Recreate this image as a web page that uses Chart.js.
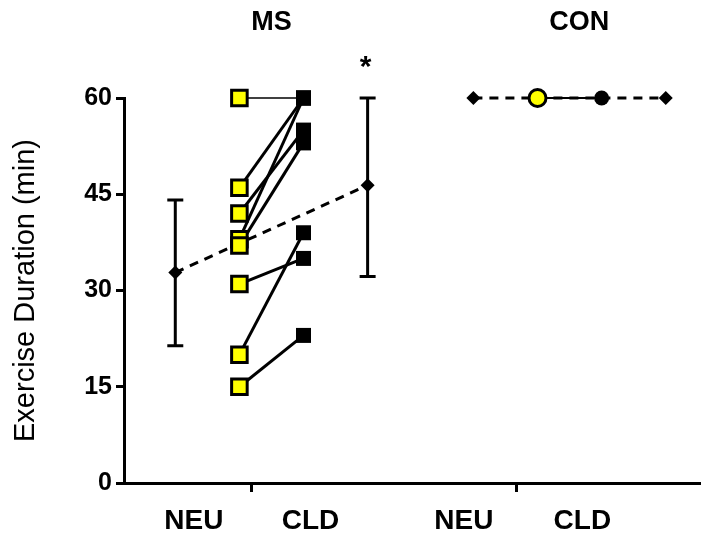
<!DOCTYPE html>
<html>
<head>
<meta charset="utf-8">
<title>Exercise Duration</title>
<script src="https://cdn.jsdelivr.net/npm/chart.js@4.4.0/dist/chart.umd.min.js"></script>
<style>
body { margin: 0; background: #ffffff; }
</style>
</head>
<body>
<canvas id="chart" width="701" height="543"></canvas>
<script>
// ----------------------------------------------------------------------
//	exercise duration, MS vs CON
// ----------------------------------------------------------------------
const ms_neu = [60, 46, 42, 38, 37, 31, 20, 15]
const ms_cld = [60, 60, 55, 60, 53, 35, 39, 23]

const ms_mean = [32.8, 46.4]
const ms_err_low = [21.4, 32.2]
const ms_err_high = [44.1, 60]

const con_mean = [60, 60]
const con_value = [60, 60]

// x: mean NEU, NEU, CLD, mean CLD
const x_ms = [1, 2, 3, 4]
const x_con = [5.65, 6.65, 7.65, 8.65]

const x_labels = ["NEU", "CLD", "NEU", "CLD"]
const x_label_pos = [1.29, 3.11, 5.5, 7.35]
const x_mark_pos = [2.19, 6.32]

const group_titles = ["MS", "CON"]
const group_pos = [2.5, 7.3]

const y_title = "Exercise Duration (min)"
const font_name = '"Liberation Sans", Arial, sans-serif'

// ----------------------------------------------------------------------
function build_datasets()
{
	var datasets = []

	for (var it = 0; it < ms_neu.length; it += 1)
		{
		datasets.push({
			data: [{x: x_ms[1], y: ms_neu[it]}, {x: x_ms[2], y: ms_cld[it]}],
			showLine: true,
			borderColor: '#000000',
			borderWidth: (ms_neu[it] == ms_cld[it]) ? 1.5 : 3,
			pointRadius: 0,
			clip: false,
			order: 5
			})
		}

	datasets.push({
		data: [{x: x_ms[0], y: ms_mean[0]}, {x: x_ms[3], y: ms_mean[1]}],
		showLine: true,
		borderColor: '#000000',
		borderWidth: 3,
		borderDash: [9, 7],
		pointStyle: 'rectRot',
		pointRadius: 7,
		pointBackgroundColor: '#000000',
		pointBorderWidth: 0,
		clip: false,
		order: 4
		})

	datasets.push({
		data: ms_neu.map(v => ({x: x_ms[1], y: v})),
		showLine: false,
		pointStyle: 'rect',
		pointRadius: 11,
		pointBackgroundColor: '#ffff00',
		pointBorderColor: '#000000',
		pointBorderWidth: 3,
		clip: false,
		order: 1
		})

	datasets.push({
		data: ms_cld.map(v => ({x: x_ms[2], y: v})),
		showLine: false,
		pointStyle: 'rect',
		pointRadius: 10.6,
		pointBackgroundColor: '#000000',
		pointBorderWidth: 0,
		clip: false,
		order: 1
		})

	datasets.push({
		data: [{x: x_con[0], y: con_mean[0]}, {x: x_con[3], y: con_mean[1]}],
		showLine: true,
		borderColor: '#000000',
		borderWidth: 3,
		borderDash: [9, 7],
		pointStyle: 'rectRot',
		pointRadius: 7,
		pointBackgroundColor: '#000000',
		pointBorderWidth: 0,
		clip: false,
		order: 4
		})

	datasets.push({
		data: [{x: x_con[1], y: con_value[0]}, {x: x_con[2], y: con_value[1]}],
		showLine: true,
		borderColor: '#000000',
		borderWidth: 2,
		pointStyle: 'circle',
		pointRadius: [8.5, 7.5],
		pointBackgroundColor: ['#ffff00', '#000000'],
		pointBorderColor: '#000000',
		pointBorderWidth: [3, 0],
		clip: false,
		order: 1
		})

	return datasets
}

// ----------------------------------------------------------------------
const error_bars = {
	id: 'error_bars',
	beforeDatasetsDraw(chart)
	{
		const ctx = chart.ctx
		const sx = chart.scales.x
		const sy = chart.scales.y
		const xs = [x_ms[0], x_ms[3]]
		ctx.save()
		ctx.strokeStyle = '#000000'
		ctx.lineWidth = 3
		for (var it = 0; it < xs.length; it += 1)
			{
			const px = sx.getPixelForValue(xs[it])
			const top = sy.getPixelForValue(ms_err_high[it])
			const bot = sy.getPixelForValue(ms_err_low[it])
			ctx.beginPath()
			ctx.moveTo(px, top)
			ctx.lineTo(px, bot)
			ctx.moveTo(px - 8, top)
			ctx.lineTo(px + 8, top)
			ctx.moveTo(px - 8, bot)
			ctx.lineTo(px + 8, bot)
			ctx.stroke()
			}
		ctx.restore()
	}
}

// ----------------------------------------------------------------------
const texts = {
	id: 'texts',
	afterDraw(chart)
	{
		const ctx = chart.ctx
		const sx = chart.scales.x
		const sy = chart.scales.y
		const area = chart.chartArea
		ctx.save()
		ctx.fillStyle = '#000000'

		ctx.font = 'bold 27px ' + font_name
		ctx.textAlign = 'center'
		ctx.textBaseline = 'middle'
		for (var it = 0; it < group_titles.length; it += 1)
			{
			ctx.fillText(group_titles[it], sx.getPixelForValue(group_pos[it]), 23)
			}

		ctx.font = 'bold 30px ' + font_name
		ctx.textBaseline = 'alphabetic'
		ctx.fillText("*", sx.getPixelForValue(x_ms[3]) - 2, sy.getPixelForValue(ms_err_high[1]) - 22)

		ctx.translate(26, (area.top + area.bottom) / 2)
		ctx.rotate(-Math.PI / 2)
		ctx.font = '29px ' + font_name
		ctx.textBaseline = 'middle'
		ctx.fillText(y_title, 0, 0)
		ctx.restore()
	}
}

// ----------------------------------------------------------------------
function prog01 ()
{
	const options = {
		responsive: false,
		animation: false,
		layout: { autoPadding: false, padding: { top: 98, left: 0, right: 0, bottom: 0 } },
		plugins: { legend: { display: false }, tooltip: { enabled: false } },
		scales: {
			x: {
				type: 'linear',
				min: 0.2,
				max: 9.2,
				afterFit: function (scale) {
					scale.height = 60
					scale.paddingLeft = 0
					scale.paddingRight = 0
					},
				afterBuildTicks: function (scale) {
					scale.ticks = x_label_pos.concat(x_mark_pos).sort().map(v => ({value: v}))
					},
				border: { display: true, color: '#000000', width: 3 },
				grid: {
					drawOnChartArea: false,
					drawTicks: true,
					tickLength: 9,
					tickWidth: 3,
					tickColor: function (ctx) {
						if (ctx.tick && x_mark_pos.indexOf(ctx.tick.value) >= 0) return '#000000'
						return 'rgba(0,0,0,0)'
						}
					},
				ticks: {
					autoSkip: false,
					maxRotation: 0,
					padding: 12,
					color: '#000000',
					font: { family: font_name, size: 28, weight: 'bold' },
					callback: function (value) {
						const ii = x_label_pos.indexOf(value)
						return (ii >= 0) ? x_labels[ii] : ''
						}
					}
				},
			y: {
				min: 0,
				max: 60,
				afterFit: function (scale) {
					scale.width = 124
					scale.paddingTop = 0
					scale.paddingBottom = 0
					},
				border: { display: true, color: '#000000', width: 3 },
				grid: {
					drawOnChartArea: false,
					drawTicks: true,
					tickLength: 8,
					tickWidth: 3,
					tickColor: '#000000'
					},
				ticks: {
					stepSize: 15,
					padding: 4,
					color: '#000000',
					font: { family: font_name, size: 25, weight: 'bold' }
					}
				}
			}
		}

	const config = {
		type: 'scatter',
		data: { datasets: build_datasets() },
		options: options,
		plugins: [error_bars, texts]
		}

	const context = document.getElementById("chart")
	const chart = new Chart(context, config)
}

prog01 ()
// ----------------------------------------------------------------------
</script>
</body>
</html>
